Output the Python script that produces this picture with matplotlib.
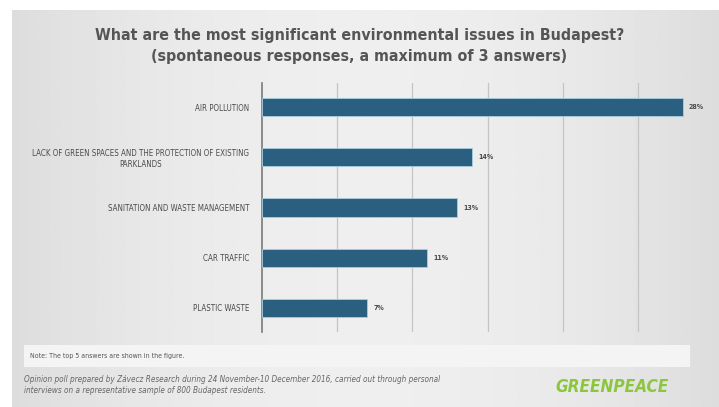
import matplotlib
matplotlib.use("Agg")
import matplotlib.pyplot as plt
import numpy as np
from matplotlib.patches import Rectangle

categories = [
    "AIR POLLUTION",
    "LACK OF GREEN SPACES AND THE PROTECTION OF EXISTING\nPARKLANDS",
    "SANITATION AND WASTE MANAGEMENT",
    "CAR TRAFFIC",
    "PLASTIC WASTE",
]
shares = [28, 14, 13, 11, 7]
ticks = [0, 5, 10, 15, 20, 25, 30]

title = ("What are the most significant environmental issues in Budapest?\n"
         "(spontaneous responses, a maximum of 3 answers)")
note = "Note: The top 5 answers are shown in the figure."
source = ("Opinion poll prepared by Závecz Research during 24 November-10 December 2016, "
          "carried out through personal\n"
          "interviews on a representative sample of 800 Budapest residents.")

BAR = "#2b5f80"
FONT = dict(family="DejaVu Sans", stretch="condensed")

fig = plt.figure(figsize=(7.19, 4.07), dpi=100)
fig.patch.set_facecolor("white")

# slide background: grey panel with a soft horizontal gradient
bg = fig.add_axes([12 / 719, 0, 707 / 719, 397 / 407], zorder=0)
xs = np.linspace(-1, 1, 400)
shade = 0.935 - 0.07 * xs ** 2
bg.imshow(np.tile(shade, (50, 1)), cmap="gray", vmin=0, vmax=1,
          aspect="auto", extent=[0, 1, 0, 1])
bg.set_axis_off()

ax = fig.add_axes([262 / 719, 1 - 332 / 407, 451 / 719, 249 / 407], zorder=2)
ax.set_facecolor("none")
y = np.arange(len(categories))
ax.barh(y, shares, height=0.36, color=BAR, edgecolor="#a9cde0",
        linewidth=0.6, zorder=3)
ax.set_ylim(len(categories) - 0.52, -0.48)
ax.set_xlim(ticks[0], ticks[-1])
ax.set_xticks(ticks[1:-1])
ax.xaxis.grid(True, color="#c4c4c4", linewidth=0.9)
ax.tick_params(axis="x", length=0, labelbottom=False)
ax.tick_params(axis="y", length=0, pad=9)
ax.set_yticks(y)
ax.set_yticklabels(categories, fontsize=5.7, color="#4a4a4a",
                   multialignment="center", **FONT)
for side in ("top", "right", "bottom"):
    ax.spines[side].set_visible(False)
ax.spines["left"].set_color("#7a7a7a")
ax.spines["left"].set_linewidth(1.2)

for yi, v in zip(y, shares):
    ax.text(v + 0.4, yi, f"{v}%", va="center", ha="left", fontsize=5,
            fontweight="bold", color="#4a4a4a", **FONT)

fig.text(0.5, 1 - 46 / 407, title, ha="center", va="center", fontsize=11.4,
         fontweight="bold", color="#555555", linespacing=1.5, **FONT)

# note strip below the chart
fig.patches.append(Rectangle((24 / 719, 1 - 367 / 407), 666 / 719, 22 / 407,
                             transform=fig.transFigure, facecolor="#f4f4f4",
                             edgecolor="none", zorder=1))
fig.text(30 / 719, 1 - 356 / 407, note, ha="left", va="center", fontsize=5,
         color="#555555", zorder=3, **FONT)

fig.text(24 / 719, 1 - 385 / 407, source, ha="left", va="center", fontsize=5.9,
         style="italic", color="#666666", linespacing=1.4, **FONT)

fig.text(612 / 719, 1 - 387 / 407, "GREENPEACE", ha="center", va="center",
         fontsize=12.3, fontweight="bold", style="italic", color="#8cc63f",
         **FONT)

fig.savefig("out.png", dpi=100)
